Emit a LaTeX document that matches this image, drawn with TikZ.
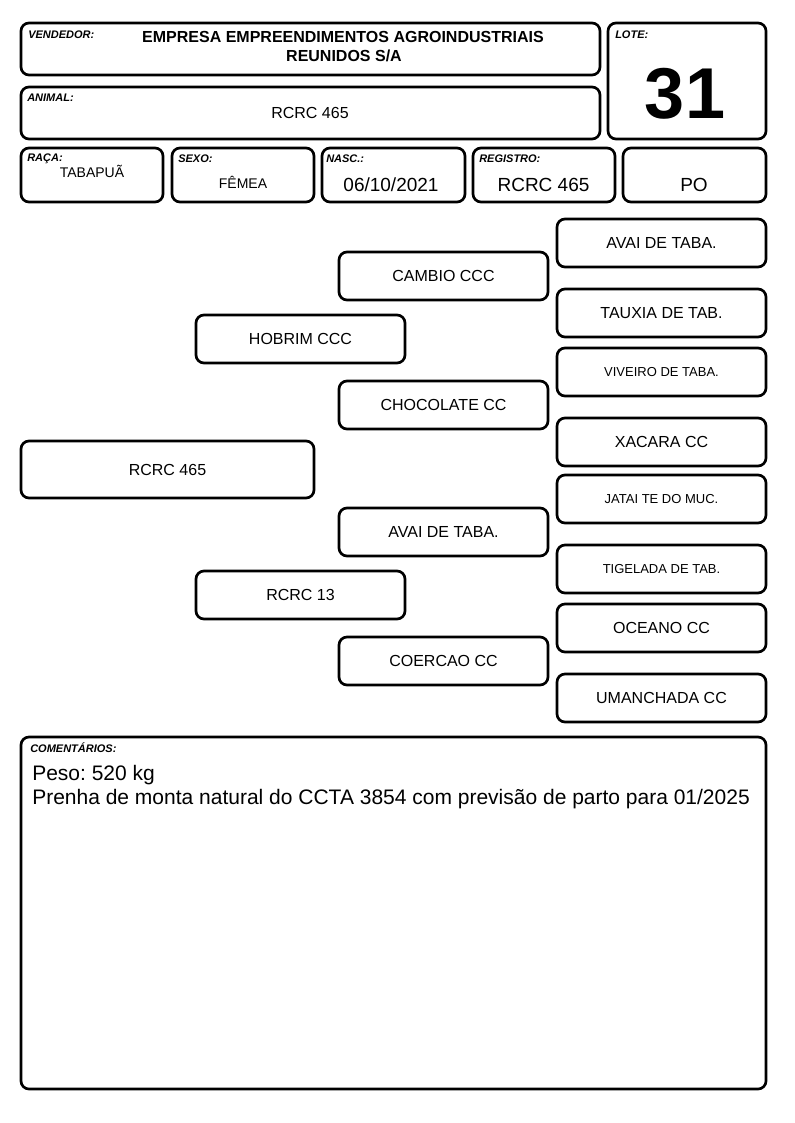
\documentclass[tikz,border=0pt]{standalone}
\usepackage{fontspec}
\setmainfont{Liberation Sans}
\frenchspacing
\begin{document}
\begin{tikzpicture}[x=0.75pt,y=-0.75pt,
  box/.style={draw, line width=2pt, rounded corners=6pt, inner sep=0pt, outer sep=0pt},
  sz/.style 2 args={minimum width=#1*0.75pt, minimum height=#2*0.75pt},
  lbl/.style={font=\fontsize{8.25}{9}\selectfont\bfseries\itshape, inner sep=0pt, anchor=base west},
  val/.style={inner sep=0pt, anchor=base},
  ped/.style={box, sz={209}{48}, font=\fontsize{12}{14}\selectfont},
  pedsm/.style={box, sz={209}{48}, font=\fontsize{9.75}{12}\selectfont},
  comtxt/.style={inner sep=0pt, anchor=base west, font=\fontsize{15.75}{18}\selectfont},
]
\useasboundingbox (0,0) rectangle (794,1123);
% header boxes
\node[box, sz={579}{52}] (vend) at (310.5,49) {};
\node[box, sz={158}{116}] (lote) at (687,81) {};
\node[box, sz={579}{52}] (anim) at (310.5,113) {};
\node[box, sz={142}{54}] (raca) at (92,175) {};
\node[box, sz={142}{54}] (sexo) at (243,175) {};
\node[box, sz={143}{54}] (nasc) at (393.5,175) {};
\node[box, sz={142}{54}] (reg) at (544,175) {};
\node[box, sz={143}{54}] (po) at (694.5,175) {};
% labels
\node[lbl] (lvend) at (28,39) {VENDEDOR:};
\node[lbl] (llote) at (615,39) {LOTE:};
\node[lbl] (lanim) at (27,102) {ANIMAL:};
\node[lbl] (lraca) at (27,162) {RAÇA:};
\node[lbl] (lsexo) at (178,163) {SEXO:};
\node[lbl] (lnasc) at (326,163) {NASC.:};
\node[lbl] (lreg) at (479,163) {REGISTRO:};
% values
\node[val, font=\fontsize{12}{14}\selectfont\bfseries] (v1) at (343,43) {EMPRESA EMPREENDIMENTOS AGROINDUSTRIAIS};
\node[val, font=\fontsize{12}{14}\selectfont\bfseries] (v2) at (344,61.5) {REUNIDOS S/A};
\node[val, font=\fontsize{12}{14}\selectfont] (vanim) at (310,119) {RCRC 465};
\node[val, font=\fontsize{54}{60}\selectfont\bfseries] (vlote) at (685,119) {31};
\node[val, font=\fontsize{10.5}{12}\selectfont] (vraca) at (92,178) {TABAPUÃ};
\node[val, font=\fontsize{10.5}{12}\selectfont] (vsexo) at (243,189) {FÊMEA};
\node[val, font=\fontsize{14.25}{16}\selectfont] (vnasc) at (391,192) {06/10/2021};
\node[val, font=\fontsize{14.25}{16}\selectfont] (vreg) at (543.5,192) {RCRC 465};
\node[val, font=\fontsize{14.25}{16}\selectfont] (vpo) at (694,192) {PO};
% pedigree
\node[box, sz={293}{57}, font=\fontsize{12}{14}\selectfont] (p1) at (167.5,469.5) {RCRC 465};
\node[ped] (p2) at (300.5,339) {HOBRIM CCC};
\node[ped] (p3) at (300.5,595) {RCRC 13};
\node[ped] (p4) at (443.5,276) {CAMBIO CCC};
\node[ped] (p5) at (443.5,405) {CHOCOLATE CC};
\node[ped] (p6) at (443.5,532) {AVAI DE TABA.};
\node[ped] (p7) at (443.5,661) {COERCAO CC};
\node[ped] (p8) at (661.5,243) {AVAI DE TABA.};
\node[ped] (p9) at (661.5,313) {TAUXIA DE TAB.};
\node[pedsm] (p10) at (661.5,372) {VIVEIRO DE TABA.};
\node[ped] (p11) at (661.5,442) {XACARA CC};
\node[pedsm] (p12) at (661.5,499) {JATAI TE DO MUC.};
\node[pedsm] (p13) at (661.5,569) {TIGELADA DE TAB.};
\node[ped] (p14) at (661.5,628) {OCEANO CC};
\node[ped] (p15) at (661.5,698) {UMANCHADA CC};
% comments
\node[box, sz={745}{352}] (com) at (393.5,913) {};
\node[lbl] (lcom) at (30,752.5) {COMENTÁRIOS:};
\node[comtxt] (c1) at (32,780) {Peso: 520 kg};
\node[comtxt] (c2) at (32,804) {Prenha de monta natural do CCTA 3854 com previsão de parto para 01/2025};
\end{tikzpicture}
\end{document}
